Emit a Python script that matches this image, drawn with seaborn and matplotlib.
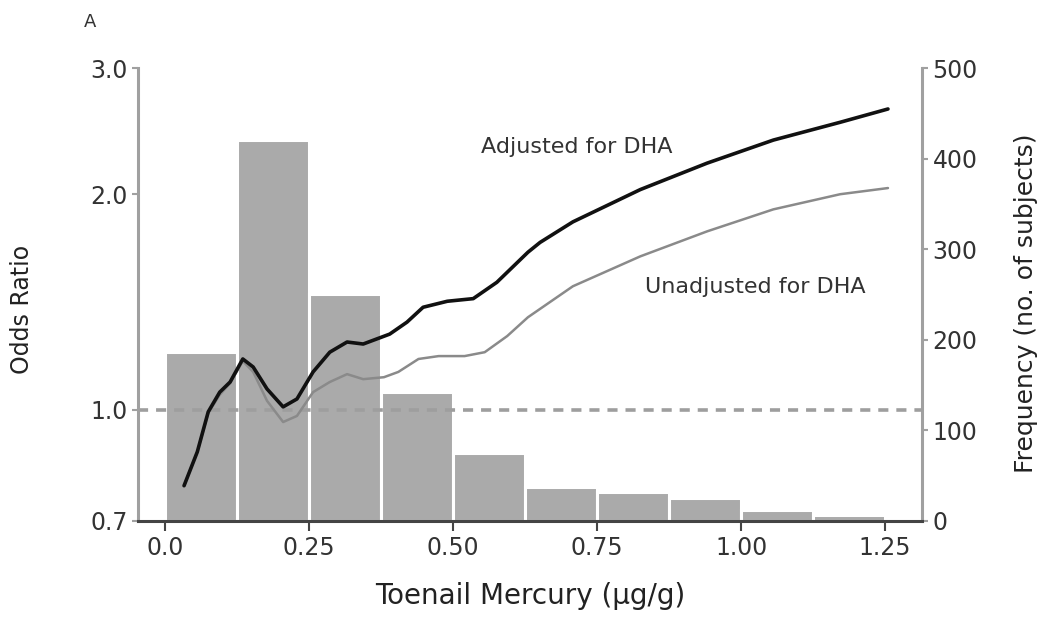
import numpy as np
import pandas as pd
import matplotlib
matplotlib.use("Agg")
import matplotlib.pyplot as plt
import seaborn as sns

# Histogram of toenail mercury (bin width 0.125 ug/g)
bin_edges = [0.0, 0.125, 0.25, 0.375, 0.5, 0.625, 0.75, 0.875, 1.0, 1.125, 1.25]
bin_counts = [187, 421, 250, 142, 75, 38, 32, 25, 12, 7]

# Odds ratio curves
adj_x = [0.033, 0.056, 0.075, 0.095, 0.113, 0.135, 0.153, 0.177, 0.205, 0.229,
         0.257, 0.286, 0.316, 0.344, 0.39, 0.42, 0.448, 0.49, 0.535, 0.576,
         0.63, 0.651, 0.708, 0.825, 0.941, 1.056, 1.172, 1.255]
adj_or = [0.784, 0.874, 0.994, 1.059, 1.094, 1.178, 1.148, 1.07, 1.01, 1.036,
          1.13, 1.204, 1.244, 1.236, 1.276, 1.326, 1.391, 1.418, 1.43, 1.507,
          1.66, 1.713, 1.83, 2.03, 2.21, 2.38, 2.52, 2.63]

unadj_x = [0.033, 0.056, 0.075, 0.095, 0.113, 0.135, 0.153, 0.177, 0.205, 0.229,
           0.257, 0.286, 0.316, 0.344, 0.38, 0.405, 0.44, 0.475, 0.52, 0.555,
           0.594, 0.63, 0.708, 0.825, 0.941, 1.056, 1.172, 1.255]
unadj_or = [0.784, 0.874, 0.99, 1.05, 1.09, 1.17, 1.13, 1.03, 0.962, 0.981,
            1.059, 1.094, 1.122, 1.104, 1.111, 1.13, 1.178, 1.189, 1.189, 1.204,
            1.268, 1.347, 1.488, 1.638, 1.775, 1.905, 2.0, 2.04]

or_ticks = [0.7, 1.0, 2.0, 3.0]
or_tick_labels = ["0.7", "1.0", "2.0", "3.0"]
x_ticks = [0.0, 0.25, 0.5, 0.75, 1.0, 1.25]
x_tick_labels = ["0.0", "0.25", "0.50", "0.75", "1.00", "1.25"]
freq_ticks = [0, 100, 200, 300, 400, 500]

sns.set_style("white")
plt.rcParams["font.family"] = ["DejaVu Sans"]

fig = plt.figure(figsize=(10.42, 6.2), dpi=100)
ax = fig.add_axes([0.1324, 0.1597, 0.7524, 0.7306])
ax2 = ax.twinx()

# Frequency histogram on the right axis
centers = [(a + b) / 2 for a, b in zip(bin_edges[:-1], bin_edges[1:])]
hist_df = pd.DataFrame({"hg": centers, "n": bin_counts})
sns.histplot(data=hist_df, x="hg", weights="n", bins=bin_edges, ax=ax2,
             color="#aaaaaa", alpha=1.0, edgecolor="white", linewidth=2.2)
ax2.set_ylim(0, 500)
ax2.set_yticks(freq_ticks)
ax2.set_ylabel("Frequency (no. of subjects)", fontsize=18, color="#222222")
ax2.yaxis.set_label_coords(1.118, 0.481)

# Odds ratio curves on the left axis, drawn above the bars
ax.set_zorder(ax2.get_zorder() + 1)
ax.patch.set_visible(False)

ax.axhline(1.0, color="#9e9e9e", lw=2.6, ls=(0, (2.8, 2.2)), zorder=1)
curve_df = pd.concat([
    pd.DataFrame({"hg": unadj_x, "or": unadj_or, "model": "Unadjusted"}),
    pd.DataFrame({"hg": adj_x, "or": adj_or, "model": "Adjusted"}),
])
sns.lineplot(data=curve_df[curve_df.model == "Unadjusted"], x="hg", y="or",
             ax=ax, color="#8a8a8a", lw=1.8, zorder=3)
sns.lineplot(data=curve_df[curve_df.model == "Adjusted"], x="hg", y="or",
             ax=ax, color="#111111", lw=2.6, zorder=4)

ax.set_yscale("log")
ax.set_ylim(0.7, 3.0)
ax.set_yticks(or_ticks)
ax.set_yticklabels(or_tick_labels)
ax.yaxis.set_minor_locator(matplotlib.ticker.NullLocator())
ax.set_xlim(-0.047, 1.314)
ax.set_xticks(x_ticks)
ax.set_xticklabels(x_tick_labels)

ax.set_ylabel("Odds Ratio", fontsize=17, color="#222222")
ax.yaxis.set_label_coords(-0.1327, 0.466)
ax.set_xlabel("Toenail Mercury (\u03bcg/g)", fontsize=20, color="#222222")
ax.xaxis.set_label_coords(0.5, -0.135)

ax.text(0.715, 2.33, "Adjusted for DHA", fontsize=16, color="#333333",
        ha="center", va="center")
ax.text(1.024, 1.483, "Unadjusted for DHA", fontsize=16, color="#333333",
        ha="center", va="center")

# Spines and ticks
for s in ["top", "right"]:
    ax.spines[s].set_visible(False)
for s in ["top", "left", "bottom"]:
    ax2.spines[s].set_visible(False)
ax.spines["left"].set_color("#a0a0a0")
ax.spines["left"].set_linewidth(2.2)
ax.spines["bottom"].set_color("#444444")
ax.spines["bottom"].set_linewidth(2.2)
ax2.spines["right"].set_color("#a0a0a0")
ax2.spines["right"].set_linewidth(2.2)

ax.tick_params(axis="y", which="major", length=4, width=1.5, color="#a0a0a0",
               labelsize=17, labelcolor="#333333", direction="out", left=True)
ax.tick_params(axis="x", length=7, width=1.5, color="#444444",
               labelsize=17, labelcolor="#333333", direction="out", bottom=True)
ax2.tick_params(axis="y", length=4, width=1.5, color="#a0a0a0",
                labelsize=17, labelcolor="#333333", direction="out", right=True)

fig.text(90 / 1042, 1 - 22 / 620, "A", fontsize=13, color="#333333",
         ha="center", va="center")

fig.savefig("out.png", dpi=100)
